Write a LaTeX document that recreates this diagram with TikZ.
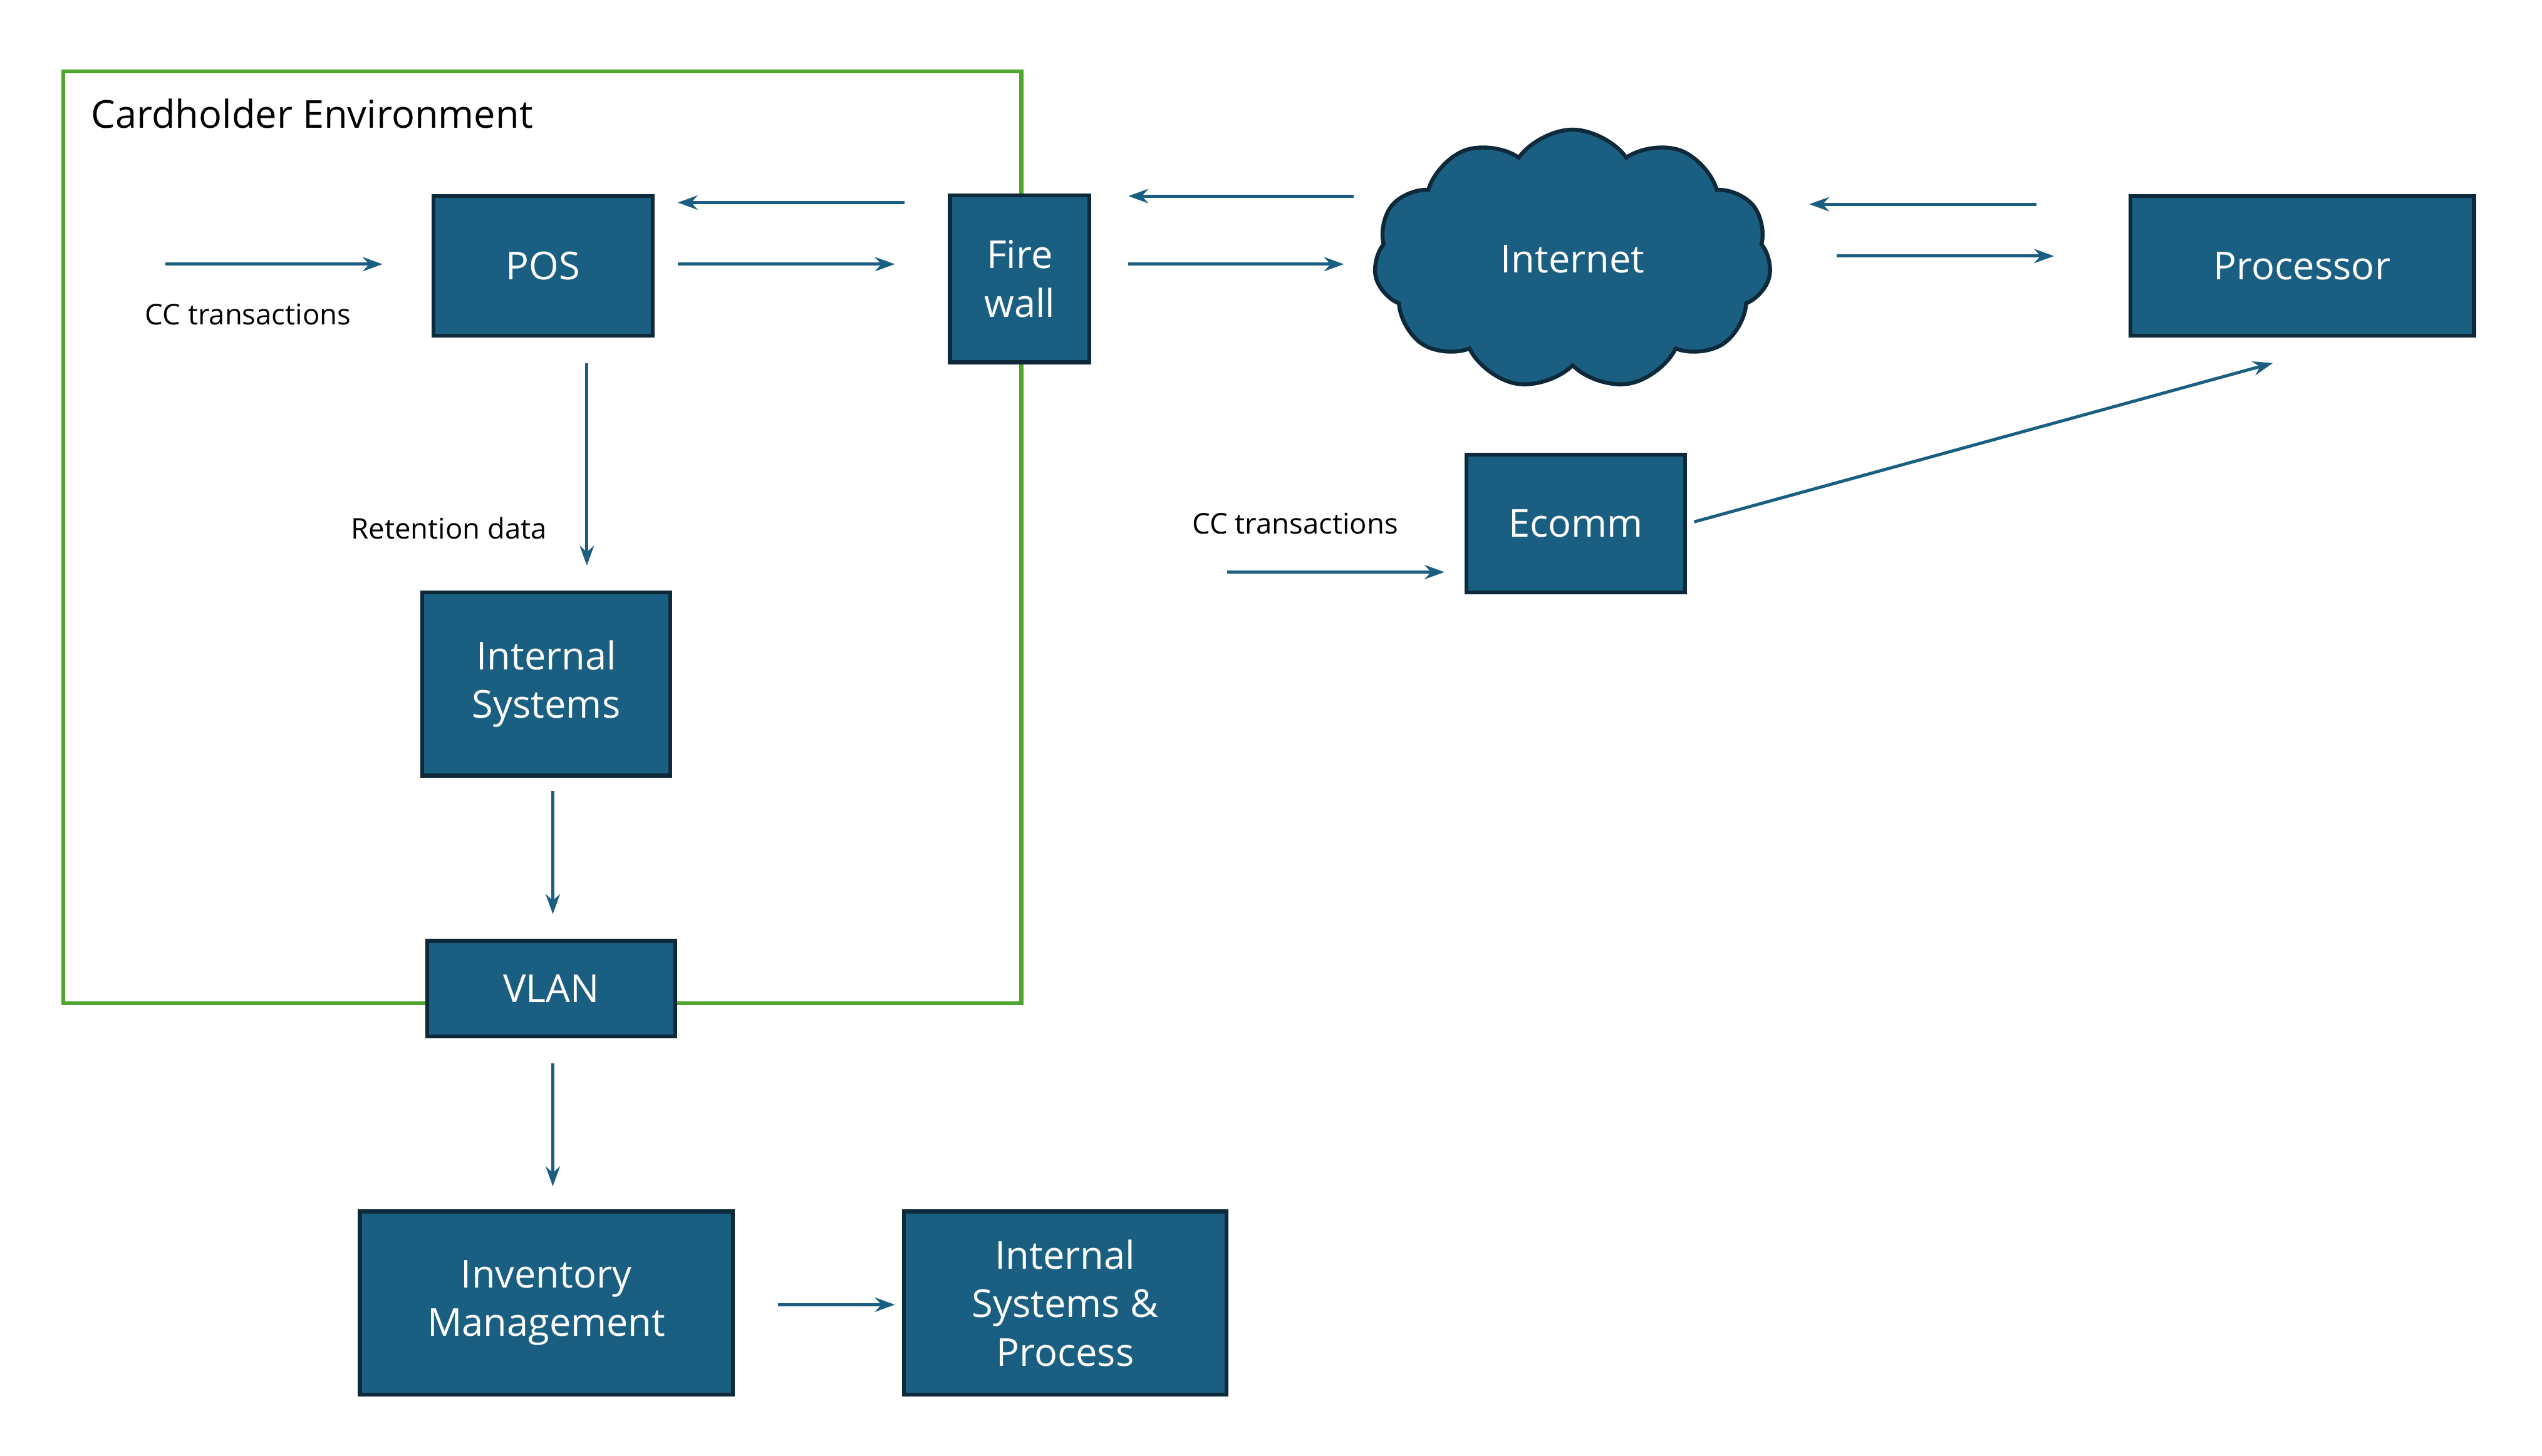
\documentclass[tikz,border=0pt]{standalone}
\usepackage{fontspec}
\setmainfont{Open Sans}
\usetikzlibrary{shapes.symbols,arrows.meta}
\definecolor{boxfill}{HTML}{1A5F82}
\definecolor{boxline}{HTML}{0E2A3A}
\definecolor{envgreen}{HTML}{4EA72E}
\begin{document}
\begin{tikzpicture}[x=0.02cm,y=-0.02cm,
  box/.style={draw=boxline,line width=1.4pt,fill=boxfill,text=white,font=\fontsize{13.5}{17}\selectfont,align=center,inner sep=0pt},
  arr/.style={draw=boxfill,line width=1.1pt,-{Stealth[length=7pt,width=5pt]}},
  lbl/.style={font=\fontsize{10}{12}\selectfont,text=black}]
\useasboundingbox (0,0) rectangle (1568,898);
\draw[envgreen,line width=1.4pt] (39,44) rectangle (630,619);
\node[anchor=west,font=\fontsize{13.5}{16}\selectfont] (env) at (50,70) {Cardholder Environment};
\node[box,minimum width=135*0.02cm,minimum height=86*0.02cm] (pos) at (335,164) {POS};
\node[box,minimum width=86*0.02cm,minimum height=103*0.02cm] (fw) at (629,172) {Fire\\wall};
\node[cloud,cloud puffs=11,cloud puff arc=110,aspect=1.6,draw=boxline,line width=1.4pt,fill=boxfill,text=white,font=\fontsize{13.5}{17}\selectfont,minimum width=245*0.02cm,minimum height=160*0.02cm] (net) at (970,160) {Internet};
\node[box,minimum width=212*0.02cm,minimum height=86*0.02cm] (proc) at (1420,164) {Processor};
\node[box,minimum width=135*0.02cm,minimum height=85*0.02cm] (ecomm) at (972,323) {Ecomm};
\node[box,minimum width=153*0.02cm,minimum height=113*0.02cm] (is) at (337,422) {Internal\\Systems};
\node[box,minimum width=153*0.02cm,minimum height=59*0.02cm] (vlan) at (340,610) {VLAN};
\node[box,minimum width=230*0.02cm,minimum height=113*0.02cm] (inv) at (337,804) {Inventory\\Management};
\node[box,minimum width=199*0.02cm,minimum height=113*0.02cm] (isp) at (657,804) {Internal\\Systems \&\\Process};
\node[lbl] (cc1) at (153,194) {CC transactions};
\node[lbl] (ret) at (277,326) {Retention data};
\node[lbl] (cc2) at (799,323) {CC transactions};
\coordinate (a1) at (102,163); \coordinate (a2) at (236,163);
\coordinate (b1) at (558,125); \coordinate (b2) at (418,125);
\coordinate (c1) at (418,163); \coordinate (c2) at (552,163);
\coordinate (d1) at (835,121); \coordinate (d2) at (696,121);
\coordinate (e1) at (696,163); \coordinate (e2) at (829,163);
\coordinate (f1) at (1256,126); \coordinate (f2) at (1116,126);
\coordinate (g1) at (1133,158); \coordinate (g2) at (1267,158);
\coordinate (h1) at (362,224); \coordinate (h2) at (362,349);
\coordinate (i1) at (341,488); \coordinate (i2) at (341,564);
\coordinate (j1) at (341,656); \coordinate (j2) at (341,732);
\coordinate (k1) at (480,805); \coordinate (k2) at (552,805);
\coordinate (l1) at (757,353); \coordinate (l2) at (891,353);
\coordinate (m1) at (1045,322); \coordinate (m2) at (1402,224);
\foreach \p in {a,b,c,d,e,f,g,h,i,j,k,l,m} \draw[arr] (\p1) -- (\p2);
\end{tikzpicture}
\end{document}
